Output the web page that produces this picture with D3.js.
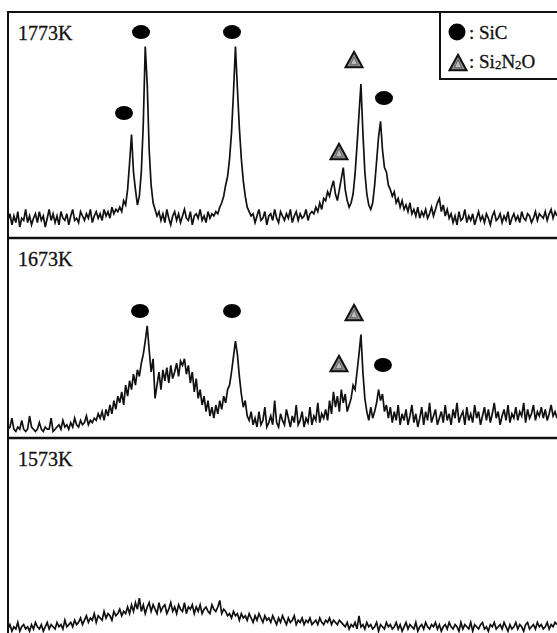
<!DOCTYPE html>
<html><head><meta charset="utf-8">
<script src="https://cdn.jsdelivr.net/npm/d3@7"></script>
<style>html,body{margin:0;padding:0;background:#fff;} svg{display:block;}</style>
</head><body><svg id="c" width="557" height="633"></svg>
<script>
// ---- data ----
const T_START = 10, T_STEP = 0.25;           // 2θ grid (deg)
const temps = ["1773K", "1673K", "1573K"];
const int1773 = [
 8,11,6,10,7,12,5,9,8,13, 7,10,6,9,11,7,12,8,10,5, 9,13,8,11,7,10,6,12,9,8, 11,6,10,13,8,9,7,12,10,8, 11,9,13,7,10,12,9,11,8,13, 10,12,9,14,11,13,12,
 14,12,17,15,22,34,47,30,22,15,19,30,52,87,70,40,24,16,13,10,12,
 8,11,7,13,9,6,10,12,8,11, 7,10,13,9,8,12,6,10,11,9, 13,8,10,7,12,9,11,10,
 12,11,14,16,19,24,28,36,48,66,87,68,50,36,26,19,14,12,10,
 11,7,10,13,8,9,12,6,10,11, 8,13,9,7,12,10,8,11,9,13, 7,10,12,8,11,9,10,13,8,11, 12,
 11,14,12,16,13,18,17,21,19,23, 26,20,17,22,27,32,22,17,14,16, 20,29,42,56,70,48,30,20,15,13,
 16,24,35,46,53,40,32,30,24,22, 19,21,16,18,14,17,13,15,12,16, 11,13,10,14,9,12,10,13,9,11, 14,10,13,16,18,12,15,10,13,9,
 11,7,10,6,12,8,9,13,7,10, 8,11,6,9,12,8,10,7,11,9, 6,10,12,8,9,11,7,10,8,12, 6,9,11,8,10,7,12,9,8,11, 10,7,9,12,8,11,10,9,12,8, 11,13,9,12,10
];
const int1673 = [
 4,5,9,4,3,5,4,8,4,3, 4,10,5,4,3,4,7,4,3,5, 4,4,9,3,4,5,6,4,8,5, 6,4,7,5,9,6,5,8,6,7, 10,6,8,7,9,8,11,
 9,12,8,13,10,15,11,17,13,19, 16,21,15,24,19,26,22,29,24,31, 28,34,38,44,51,40,30,36,18,24, 30,22,31,26,32,25,33,27,30,34,
 28,35,33,36,29,33,25,30,21,27, 18,22,15,19,12,17,10,14,9,15, 11,17,13,19,16,22,24,30,37,44, 38,28,20,14,17,10,8,12,6,
 9,5,12,6,8,14,5,7,10,6, 17,7,5,11,8,6,13,9,5,10, 7,15,6,8,12,5,9,7,14,6, 10,8,16,7,11,
 9,13,8,17,11,21,14,19,12,22, 16,20,12,15,18,24,22,30,38,47, 30,18,12,8,14,9,12,16,22,17, 20,12,15,9,14,7,12,8,15,6, 11,
 8,13,6,10,15,7,11,5,9,14, 6,12,8,16,7,10,13,6,9,12, 7,15,8,11,6,13,9,16,7,10, 12,6,14,8,11,7,15,9,12,6,
 10,14,8,13,7,11,16,9,12,6, 10,13,8,15,7,11,9,14,8,12, 10,16,7,13,9,11,15,8,12,10, 14,9,13,8,11,15,10,12,9
];
const int1573 = [
 5,7,4,6,5,8,4,6,7,5, 6,4,7,5,8,6,5,7,4,6, 8,5,7,6,5,8,6,7,5,9, 6,7,8,6,9,7,
 8,10,7,9,11,8,10,9,12,8, 11,10,9,13,10,12,11,9,13,11, 12,14,11,13,12,
 15,12,16,13,17,14,19,13,16,12, 15,17,13,16,14,12,17,13,15,16, 12,14,17,13,15,12,16,14,13,17, 12,15,14,16,12,15,13,16,12,14, 15,13,12,16,14,13,15,18,12,14,
 13,11,12,10,13,11,12,9,12,10, 11,9,12,10,8,11,9,12,10,8, 11,9,10,8,11,9,7,10,8,11, 9,7,10,8,9,11,7,9,8,10, 7,9,8,10,7,8,9,7,10,8, 7,9,8,10,7,9,8,7,9,8,
 7,6,8,5,7,6,8,5,11,6, 7,5,8,6,7,5,6,8,4,7, 6,5,8,6,7,5,6,8,5,7, 4,6,8,5,7,6,5,8,4,6, 7,5,8,6,5,7,6,8,5,7,
 4,6,7,5,8,6,5,7,6,4, 8,5,7,6,5,8,4,7,6,5, 7,8,5,6,4,7,6,8,5,6, 7,5,8,6,4,7,5,6,8,5, 7,6,4,7,8,5,6,7,5,8, 6,7,5,6,8,5,7,6,8,7
];
// peak markers
const markerPanel = [0, 0, 0, 0, 0, 0, 1, 1, 1, 1, 1];
const markerPhase = ["SiC","SiC","SiC","SiC","Si2N2O","Si2N2O","SiC","SiC","Si2N2O","Si2N2O","SiC"];
const markerTheta = [26.96, 38.56, 24.79, 57.94, 54.12, 52.20, 26.83, 38.56, 54.12, 52.20, 57.81];
const markerInt   = [93.6, 93.6, 56.8, 63.6, 80.9, 39.1, 57.7, 57.7, 56.8, 33.6, 33.2];
const legendPhases = ["SiC", "Si2N2O"];

// ---- drawing ----
const series = [int1773, int1673, int1573];
series.forEach((s, k) => { if (s.length !== 281) throw new Error("series " + k + " length " + s.length); });

const svg = d3.select("#c");
svg.append("rect").attr("width", 557).attr("height", 633).attr("fill", "#fff");

const panelBottoms = [238, 438, 640];
const panelTops = [12, 238, 438];
const x = d3.scaleLinear().domain([10, 80]).range([8, 557]);
const yScales = panelBottoms.map(b => d3.scaleLinear().domain([0, 100]).range([b, b - 220]));

series.forEach((s, k) => {
  const y = yScales[k];
  const line = d3.line().x((d, i) => x(T_START + i * T_STEP)).y(d => y(d));
  svg.append("path").datum(s).attr("d", line)
    .attr("fill", "none").attr("stroke", "#111").attr("stroke-width", 1.7)
    .attr("stroke-linejoin", "miter");
});

// frame and dividers
svg.append("rect").attr("x", 8).attr("y", 12).attr("width", 560).attr("height", 640)
  .attr("fill", "none").attr("stroke", "#111").attr("stroke-width", 2);
[238, 438].forEach(yy => svg.append("line").attr("x1", 8).attr("x2", 557).attr("y1", yy).attr("y2", yy)
  .attr("stroke", "#111").attr("stroke-width", 2.5));

// temperature labels
temps.forEach((t, k) => {
  svg.append("text").attr("x", 18).attr("y", panelTops[k] + 28)
    .attr("font-family", "Liberation Serif, Times New Roman, serif").attr("font-size", 20)
    .attr("fill", "#111").attr("stroke", "#111").attr("stroke-width", 0.3).text(t);
});

function triangle(g, cx, cy, s) {
  const h = s * 0.85;
  const p = d3.path();
  p.moveTo(cx, cy - h / 2 - 1); p.lineTo(cx + s / 2, cy + h / 2); p.lineTo(cx - s / 2, cy + h / 2); p.closePath();
  g.append("path").attr("d", p.toString()).attr("fill", "#8c8c8c").attr("stroke", "#111").attr("stroke-width", 2);
  const q = d3.path();
  q.moveTo(cx, cy - h / 2 + 4); q.lineTo(cx + s / 2 - 5, cy + h / 2 - 2.5); q.lineTo(cx - s / 2 + 5, cy + h / 2 - 2.5); q.closePath();
  g.append("path").attr("d", q.toString()).attr("fill", "#bdbdbd").attr("stroke", "#555").attr("stroke-width", 0.8);
}

const mg = svg.append("g");
markerPanel.forEach((p, i) => {
  const cx = x(markerTheta[i]), cy = yScales[p](markerInt[i]);
  if (markerPhase[i] === "SiC") {
    mg.append("ellipse").attr("cx", cx).attr("cy", cy).attr("rx", 9).attr("ry", 7).attr("fill", "#000");
  } else {
    triangle(mg, cx, cy, 17);
  }
});

// legend
const lg = svg.append("g");
lg.append("rect").attr("x", 440).attr("y", 12).attr("width", 130).attr("height", 67)
  .attr("fill", "#fff").attr("stroke", "#111").attr("stroke-width", 2);
lg.append("circle").attr("cx", 457).attr("cy", 32).attr("r", 8.5).attr("fill", "#000");
triangle(lg, 458, 63, 17);
const lf = "Liberation Serif, Times New Roman, serif";
lg.append("text").attr("x", 469).attr("y", 39).attr("font-family", lf).attr("font-size", 19).attr("fill", "#111")
  .attr("stroke", "#111").attr("stroke-width", 0.3)
  .text(": " + legendPhases[0]);
const t2 = lg.append("text").attr("x", 469).attr("y", 68).attr("font-family", lf).attr("font-size", 19).attr("fill", "#111")
  .attr("stroke", "#111").attr("stroke-width", 0.3);
t2.append("tspan").text(": Si");
t2.append("tspan").attr("font-size", 13).attr("dy", 1).text("2");
t2.append("tspan").attr("dy", -1).text("N");
t2.append("tspan").attr("font-size", 13).attr("dy", 1).text("2");
t2.append("tspan").attr("dy", -1).text("O");
</script></body></html>
